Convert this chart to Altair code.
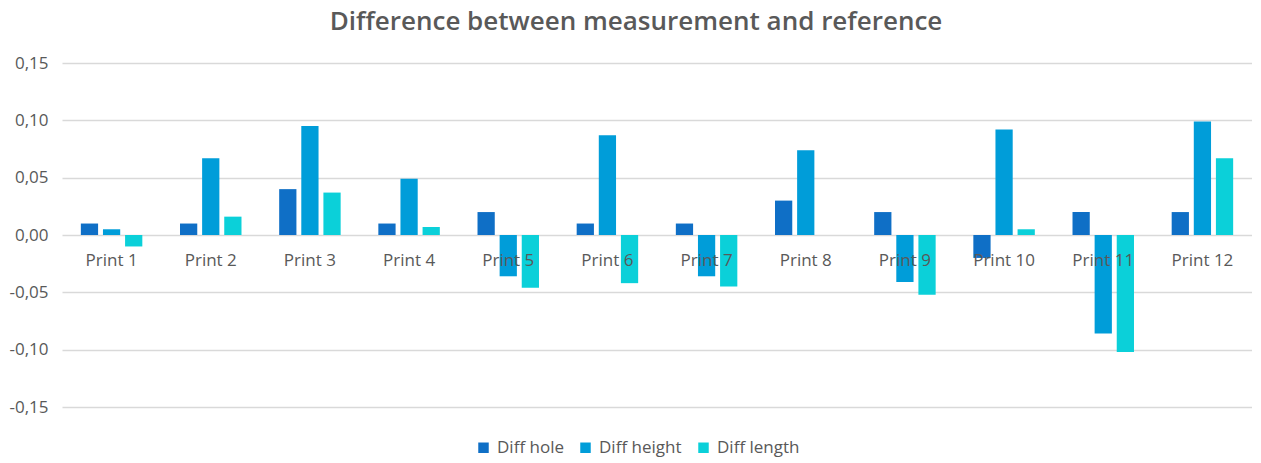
import altair as alt
import pandas as pd

categories = [f"Print {i}" for i in range(1, 13)]
series = ["Diff hole", "Diff height", "Diff length"]
diff_hole = [0.010, 0.010, 0.040, 0.010, 0.020, 0.010, 0.010, 0.030, 0.020, -0.020, 0.020, 0.020]
diff_height = [0.005, 0.067, 0.095, 0.049, -0.036, 0.087, -0.036, 0.074, -0.041, 0.092, -0.086, 0.099]
diff_length = [-0.010, 0.016, 0.037, 0.007, -0.046, -0.042, -0.045, 0.000, -0.052, 0.005, -0.102, 0.067]
colors = ["#0F6FC6", "#009DD9", "#0BD0D9"]

rows = []
for name, vals in zip(series, [diff_hole, diff_height, diff_length]):
    for c, v in zip(categories, vals):
        rows.append({"cat": c, "series": name, "value": v})
df = pd.DataFrame(rows)
cat_df = pd.DataFrame({"cat": categories})

FONT = "Open Sans"
GRAY = "#595959"

x_enc = alt.X("cat:N", sort=categories, axis=None,
              scale=alt.Scale(paddingInner=0.38, paddingOuter=0.19))
y_scale = alt.Scale(domain=[-0.15, 0.15], nice=False)

bars = alt.Chart(df).mark_bar().encode(
    x=x_enc,
    xOffset=alt.XOffset("series:N", sort=series, scale=alt.Scale(paddingInner=0.22)),
    y=alt.Y("value:Q", scale=y_scale, title=None,
            axis=alt.Axis(values=[-0.15, -0.10, -0.05, 0, 0.05, 0.10, 0.15],
                          labelExpr="replace(replace(format(datum.value, '.2f'), '.', ','), '\u2212', '-')",
                          domain=False, ticks=False, labelPadding=14,
                          labelFontSize=17, labelColor=GRAY, labelFont=FONT,
                          gridColor="#D9D9D9", gridWidth=1.5)),
    color=alt.Color("series:N", sort=series,
                    scale=alt.Scale(domain=series, range=colors),
                    legend=alt.Legend(title=None, orient="none", direction="horizontal",
                                      legendX=413, legendY=376,
                                      symbolType="square", symbolSize=110,
                                      symbolStrokeWidth=0,
                                      labelFontSize=17, labelColor=GRAY, labelFont=FONT,
                                      columnPadding=13, labelOffset=5)),
)

labels = alt.Chart(cat_df).mark_text(fontSize=17, color=GRAY, font=FONT, baseline="middle", dy=26).encode(
    x=x_enc,
    y=alt.datum(0, scale=y_scale),
    text="cat:N",
)

chart = alt.layer(bars, labels).properties(
    width=1190, height=344,
    title=alt.TitleParams("Difference between measurement and reference",
                          fontSize=26, fontWeight=600, color=GRAY, font=FONT,
                          anchor="middle", offset=19, dx=-21),
    autosize=alt.AutoSizeParams(type="none"),
    padding={"left": 54, "top": 55, "right": 0, "bottom": 52},
).configure_view(stroke=None)

chart.save("out.html", embed_options={"renderer": "svg", "actions": False})
